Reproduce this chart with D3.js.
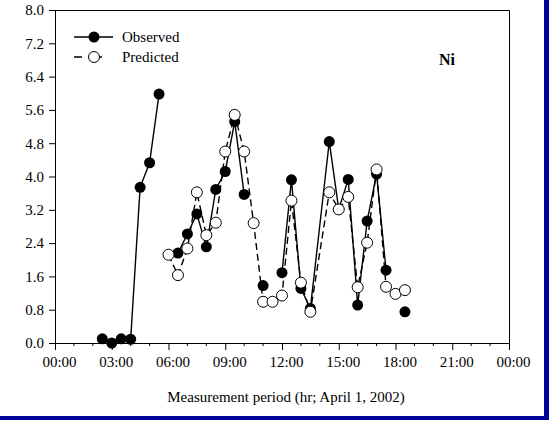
<!DOCTYPE html>
<html>
<head>
<meta charset="utf-8">
<script src="https://cdn.jsdelivr.net/npm/d3@7"></script>
<style>
  html, body { margin: 0; padding: 0; background: #fff; }
  svg { display: block; }
  text { font-family: "Liberation Serif", "Times New Roman", serif; fill: #000; }
</style>
</head>
<body>
<svg id="chart" width="550" height="425"></svg>
<script>
// Time of each sample, hours after midnight, April 1, 2002
const hours = [2.5, 3, 3.5, 4, 4.5, 5, 5.5, 6, 6.5, 7, 7.5, 8, 8.5, 9, 9.5, 10, 10.5, 11, 11.5,
               12, 12.5, 13, 13.5, 14.5, 15, 15.5, 16, 16.5, 17, 17.5, 18, 18.5];
const observed = [0.10, 0.00, 0.10, 0.09, 3.74, 4.33, 5.98, null, 2.16, 2.62, 3.10, 2.31, 3.69, 4.12,
                  5.32, 3.57, null, 1.38, null, 1.69, 3.92, 1.31, 0.83, 4.84, 3.21, 3.93, 0.91, 2.93,
                  4.06, 1.75, null, 0.75];
const predicted = [null, null, null, null, null, null, null, 2.12, 1.63, 2.27, 3.62, 2.59, 2.89, 4.60,
                   5.48, 4.60, 2.88, 0.99, 0.99, 1.14, 3.42, 1.45, 0.75, 3.62, 3.21, 3.51, 1.34, 2.41,
                   4.17, 1.35, 1.18, 1.27];
const xTickHours = [0, 3, 6, 9, 12, 15, 18, 21, 24];
const xTickLabels = ["00:00", "03:00", "06:00", "09:00", "12:00", "15:00", "18:00", "21:00", "00:00"];
const yTicks = [0.0, 0.8, 1.6, 2.4, 3.2, 4.0, 4.8, 5.6, 6.4, 7.2, 8.0];
const seriesNames = ["Observed", "Predicted"];
const elementLabel = "Ni";
const xTitle = "Measurement period (hr; April 1, 2002)";

const svg = d3.select("#chart");
const L = 55, R = 509, T = 10, B = 343;
const x = d3.scaleLinear().domain([0, 24]).range([L, R]);
const y = d3.scaleLinear().domain([0, 8]).range([B, T]);
const FS = 15;

// outer blue border (right and bottom)
svg.append("rect").attr("x", 544).attr("y", 0).attr("width", 5).attr("height", 420).attr("fill", "#00009a");
svg.append("rect").attr("x", 0).attr("y", 416).attr("width", 549).attr("height", 4).attr("fill", "#00009a");

// frame top & right
svg.append("path").attr("d", `M${L},${T + 0.5}H${R + 0.5}V${B}`)
  .attr("fill", "none").attr("stroke", "#000").attr("stroke-width", 1);

// x axis
const xAxis = d3.axisBottom(x).tickValues(xTickHours)
  .tickFormat((d, i) => xTickLabels[i]).tickSize(7).tickPadding(6);
const gx = svg.append("g").attr("transform", `translate(0,${B})`).call(xAxis);
gx.select(".domain").attr("stroke", "#000");
gx.selectAll("text").attr("font-size", FS).attr("dx", 4).style("font-family", "Liberation Serif");
const minor = d3.range(0, 25).filter(h => h % 3 !== 0);
gx.selectAll(".minor").data(minor).enter().append("line")
  .attr("x1", d => x(d)).attr("x2", d => x(d)).attr("y1", 0).attr("y2", 3).attr("stroke", "#000");

// y axis
const yAxis = d3.axisLeft(y).tickValues(yTicks).tickFormat(d3.format(".1f")).tickSize(6).tickPadding(5);
const gy = svg.append("g").attr("transform", `translate(${L},0)`).call(yAxis);
gy.select(".domain").attr("stroke", "#000");
gy.selectAll("text").attr("font-size", FS).style("font-family", "Liberation Serif");

// axis title
svg.append("text").attr("x", (L + R) / 2 + 4).attr("y", 402).attr("text-anchor", "middle")
  .attr("font-size", FS).text(xTitle);

// data
const obsData = hours.map((h, i) => ({ h, v: observed[i] }));
const preData = hours.map((h, i) => ({ h, v: predicted[i] }));
const line = d3.line().defined(d => d.v !== null).x(d => x(d.h)).y(d => y(d.v));

svg.append("path").datum(obsData).attr("d", line)
  .attr("fill", "none").attr("stroke", "#000").attr("stroke-width", 1.4);
svg.append("path").datum(preData).attr("d", line)
  .attr("fill", "none").attr("stroke", "#000").attr("stroke-width", 1.4).attr("stroke-dasharray", "7,4");

const r = 5.5;
svg.append("g").selectAll("circle").data(obsData.filter(d => d.v !== null)).enter().append("circle")
  .attr("cx", d => x(d.h)).attr("cy", d => y(d.v)).attr("r", r).attr("fill", "#000");
svg.append("g").selectAll("circle").data(preData.filter(d => d.v !== null)).enter().append("circle")
  .attr("cx", d => x(d.h)).attr("cy", d => y(d.v)).attr("r", r).attr("fill", "#fff")
  .attr("stroke", "#000").attr("stroke-width", 1);

// legend
const lg = svg.append("g");
lg.append("line").attr("x1", 74).attr("x2", 113).attr("y1", 37).attr("y2", 37).attr("stroke", "#000").attr("stroke-width", 1.4);
lg.append("circle").attr("cx", 94).attr("cy", 37).attr("r", r).attr("fill", "#000");
lg.append("text").attr("x", 122).attr("y", 42).attr("font-size", FS).text(seriesNames[0]);
lg.append("line").attr("x1", 74).attr("x2", 113).attr("y1", 57).attr("y2", 57).attr("stroke", "#000").attr("stroke-width", 1.4)
  .attr("stroke-dasharray", "8,12");
lg.append("circle").attr("cx", 94).attr("cy", 57).attr("r", r).attr("fill", "#fff").attr("stroke", "#000");
lg.append("text").attr("x", 122).attr("y", 62).attr("font-size", FS).text(seriesNames[1]);

// element label
svg.append("text").attr("x", 447).attr("y", 65).attr("text-anchor", "middle")
  .attr("font-size", 16).attr("font-weight", "bold").text(elementLabel);
</script>
</body>
</html>
